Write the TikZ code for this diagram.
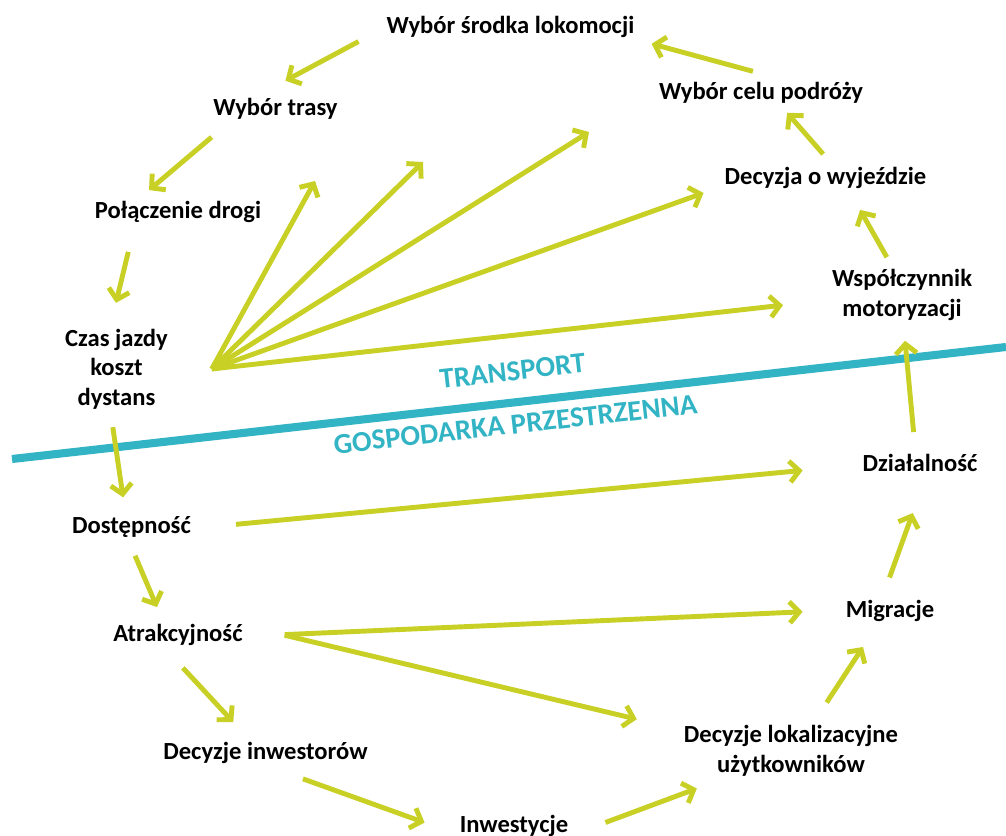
\documentclass[tikz,border=0pt]{standalone}
\usepackage{fontspec}
\setmainfont{Carlito}
\usetikzlibrary{arrows.meta}
\definecolor{lime}{RGB}{200,208,38}
\definecolor{sea}{RGB}{50,180,196}
\begin{document}
\begin{tikzpicture}[x=0.02cm, y=-0.02cm,
    every node/.style={font=\fontsize{14}{16.8}\selectfont\bfseries, inner sep=2.8pt, align=center},
    arr/.style={lime, line width=2.8pt, -{Straight Barb[length=5.5pt,width=12pt]}},
    band/.style={sea, line width=4.6pt},
    bandlbl/.style={sea, font=\fontsize{16.5}{19}\selectfont\bfseries, inner sep=0pt, sloped}]
    \useasboundingbox (0,0) rectangle (1006,835);
    % transport side
    \node (srodka) at (510.5,27) {Wybór środka lokomocji};
    \node (cel) at (761,93) {Wybór celu podróży};
    \node (trasy) at (275.5,108.5) {Wybór trasy};
    \node (wyjazd) at (825.5,178) {Decyzja o wyjeździe};
    \node (polaczenie) at (178,212) {Połączenie drogi};
    \node (wspol) at (902,295) {Współczynnik\\motoryzacji};
    \node (czas) at (116.5,369) {Czas jazdy\\koszt\\dystans};
    % land use side
    \node (dzial) at (920,463) {Działalność};
    \node (dostep) at (131.5,527) {Dostępność};
    \node (migr) at (890,611) {Migracje};
    \node (atrak) at (178,635) {Atrakcyjność};
    \node (lok) at (791,751) {Decyzje lokalizacyjne\\użytkowników};
    \node (inwestorow) at (265.5,753) {Decyzje inwestorów};
    \node (inwestycje) at (514,826) {Inwestycje};
    % border line
    \coordinate (bl) at (12,459); \coordinate (br) at (1006,347);
    \draw[band] (bl) -- (br)
        node[bandlbl, pos=0.507, above=10pt] (transport) {TRANSPORT}
        node[bandlbl, pos=0.504, below=4.7pt] (gosp) {GOSPODARKA PRZESTRZENNA};
    % arrows of the loop
    \coordinate (czasout) at ([xshift=22pt]czas.east);
    \foreach \a/\b/\s/\e in {srodka.181/trasy.128/14.8pt/14.4pt, trasy.198/polaczenie.156/11.3pt/5.2pt,
        polaczenie.200/czas.97/14pt/12.2pt, czas.263/dostep.112/7.4pt/8pt, dostep.263/atrak.135/8pt/7.4pt,
        atrak.236/inwestorow.139/13.1pt/11.6pt, inwestorow.302/inwestycje.187/16.6pt/18.1pt,
        inwestycje.352/lok.202/19.4pt/11.2pt, lok.52/migr.229/12.2pt/13.6pt, migr.113/dzial.292/10.6pt/21.8pt,
        dzial.109/wspol.273/9.7pt/8.6pt, wspol.110/wyjazd.328/4.6pt/10.4pt, wyjazd.74/cel.325/6pt/3pt,
        cel.50/srodka.354/12.6pt/7.1pt, atrak.359/migr.179/21pt/21.6pt, atrak.7/lok.169/21.6pt/24.5pt,
        dostep.359/dzial.182/22.8pt/31.3pt, czasout/wyjazd.185/0pt/9.6pt, czasout/wspol.184/0pt/25pt}
        \draw[arr, shorten <=\s, shorten >=\e] (\a) -- (\b);
    % fan ends with no target
    \coordinate (fa) at (315,181); \coordinate (fb) at (423,162); \coordinate (fc) at (589,132);
    \foreach \t in {fa,fb,fc} \draw[arr] (czasout) -- (\t);
\end{tikzpicture}
\end{document}
